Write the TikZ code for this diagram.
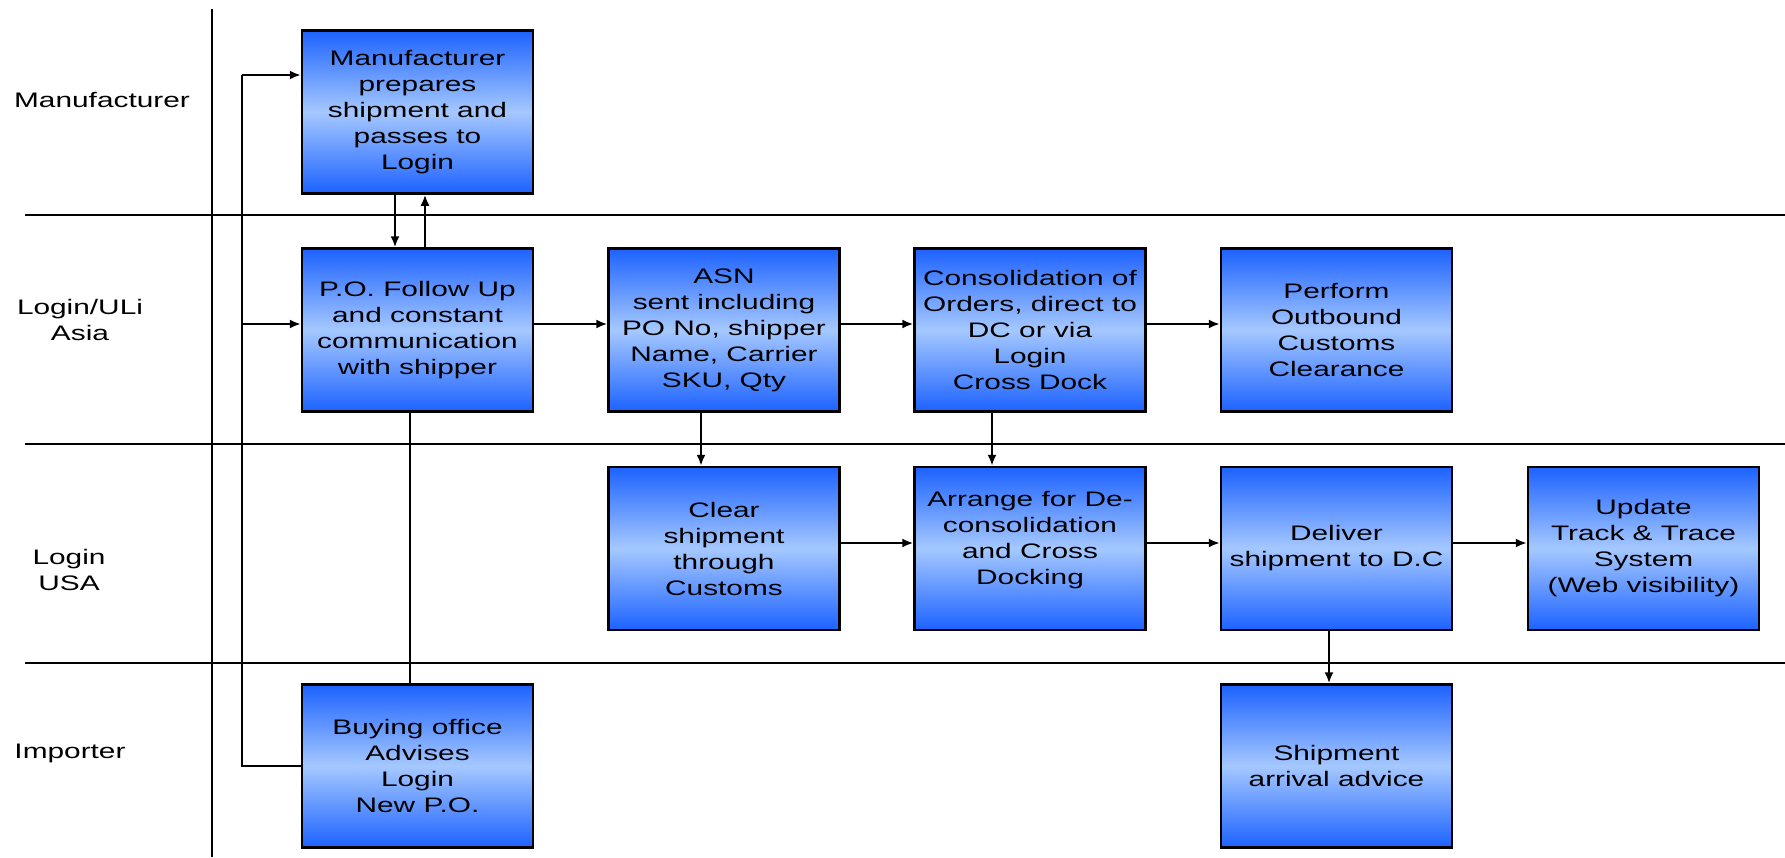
\documentclass[tikz,border=0pt]{standalone}
\usepackage{fontspec}
\setmainfont{Liberation Sans}[FakeStretch=1.42]
\usetikzlibrary{arrows.meta}
\definecolor{bblue}{RGB}{28,98,255}
\definecolor{lblue}{RGB}{165,200,255}
\begin{document}
\begin{tikzpicture}[x=1pt,y=-1pt,
  box/.style={draw=black, line width=2.5pt, rectangle, minimum width=231pt, minimum height=163pt,
    inner sep=0pt, align=center, top color=bblue, bottom color=bblue, middle color=lblue,
    font=\fontsize{21}{26}\selectfont},
  lane/.style={line width=2.5pt},
  conn/.style={line width=2pt, -{Latex[length=11pt,width=9pt]}},
  plain/.style={line width=2pt},
  lbl/.style={align=center, font=\fontsize{21}{26}\selectfont}]
\useasboundingbox (0,0) rectangle (1785,857);
% swimlane lines
\draw[lane] (212,9) -- (212,857);
\draw[lane] (25,215) -- (1785,215);
\draw[lane] (25,444) -- (1785,444);
\draw[lane] (25,663) -- (1785,663);
% lane labels
\node[lbl] (lmanu) at (102,100) {Manufacturer};
\node[lbl] (lasia) at (80,320) {Login/ULi\\Asia};
\node[lbl] (lusa) at (69,570) {Login\\USA};
\node[lbl] (limp) at (70,753) {Importer};
% boxes
\node[box] (man) at (417.5,112) {Manufacturer\\prepares\\shipment and\\passes to\\Login};
\node[box] (po) at (417.5,330) {P.O. Follow Up\\and constant\\communication\\with shipper};
\node[box] (asn) at (724,330) {ASN\\sent including\\PO No, shipper\\Name, Carrier\\SKU, Qty};
\node[box] (cons) at (1030,330) {Consolidation of\\Orders, direct to\\DC or via\\Login\\Cross Dock};
\node[box] (perf) at (1336.5,330) {Perform\\Outbound\\Customs\\Clearance};
\node[box] (clear) at (724,548.5) {Clear\\shipment\\through\\Customs};
\node[box] (arr) at (1030,548.5) {Arrange for De-\\consolidation\\and Cross\\Docking\\[-4pt]\mbox{}};
\node[box] (deliv) at (1336.5,548.5) {Deliver\\shipment to D.C};
\node[box] (upd) at (1643.5,548.5) {Update\\Track \& Trace\\System\\(Web visibility)};
\node[box] (buy) at (417.5,766) {Buying office\\Advises\\Login\\New P.O.};
\node[box] (arrv) at (1336.5,766) {Shipment\\arrival advice};
% feeder from buying office
\coordinate (f1) at (242,75);
\coordinate (f2) at (242,324);
\draw[plain] (buy.west) -| (f1);
\draw[conn] (f1) -- (f1 -| man.west);
\draw[conn] (f2) -- (f2 -| po.west);
% manufacturer <-> PO
\draw[conn] ([xshift=-22.5pt]man.south) -- ([xshift=-22.5pt]po.north);
\draw[conn] ([xshift=7.5pt]po.north) -- ([xshift=7.5pt]man.south);
\draw[plain] ([xshift=-7.5pt]po.south) -- ([xshift=-7.5pt]buy.north);
% row 2
\draw[conn] ([yshift=6pt]po.east) -- ([yshift=6pt]asn.west);
\draw[conn] ([yshift=6pt]asn.east) -- ([yshift=6pt]cons.west);
\draw[conn] ([yshift=6pt]cons.east) -- ([yshift=6pt]perf.west);
% down
\draw[conn] ([xshift=-23pt]asn.south) -- ([xshift=-23pt]clear.north);
\draw[conn] ([xshift=-38pt]cons.south) -- ([xshift=-38pt]arr.north);
% row 3
\draw[conn] ([yshift=5.5pt]clear.east) -- ([yshift=5.5pt]arr.west);
\draw[conn] ([yshift=5.5pt]arr.east) -- ([yshift=5.5pt]deliv.west);
\draw[conn] ([yshift=5.5pt]deliv.east) -- ([yshift=5.5pt]upd.west);
\draw[conn] ([xshift=-7.5pt]deliv.south) -- ([xshift=-7.5pt]arrv.north);
\end{tikzpicture}
\end{document}
